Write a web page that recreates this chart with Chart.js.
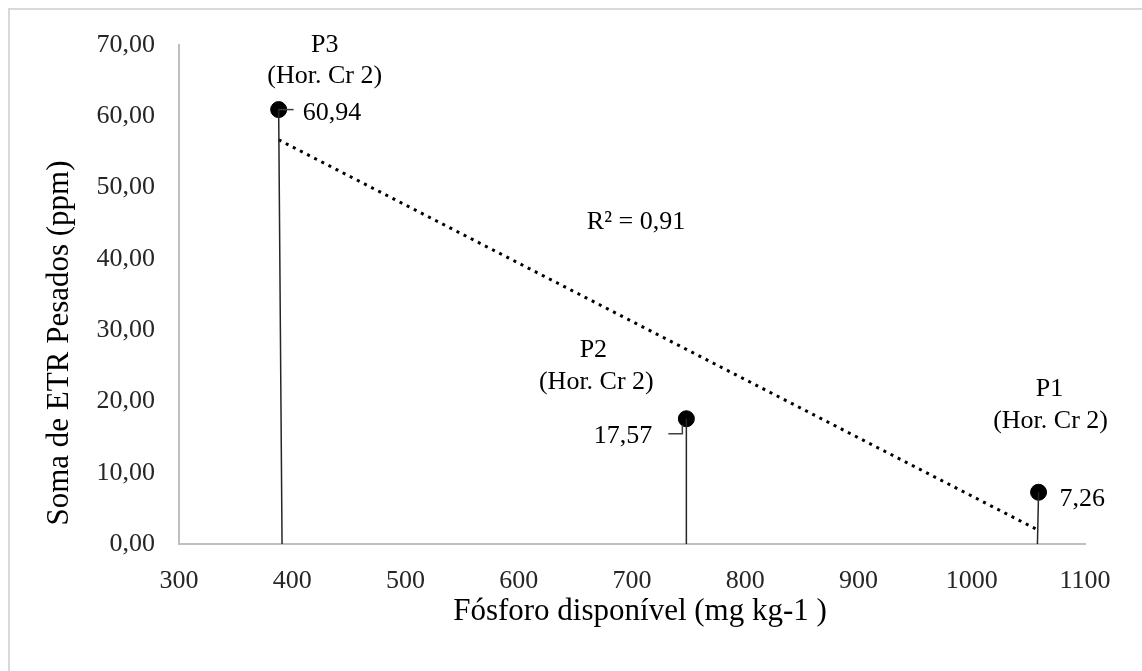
<!DOCTYPE html>
<html lang="pt">
<head>
    <meta charset="UTF-8">
    <title>Fósforo x ETR Pesados</title>
    <script src="https://cdn.jsdelivr.net/npm/chart.js"></script>
    <style>
        html, body { margin: 0; padding: 0; background: #fff; }
        #wrap { position: relative; width: 1142px; height: 671px; }
        #frame { position: absolute; left: 8px; top: 8px; width: 1200px; height: 700px;
                 border-left: 2px solid #d9d9d9; border-top: 2px solid #d9d9d9; }
    </style>
</head>
<body>
<div id="wrap">
    <div id="frame"></div>
    <canvas id="grafico" width="1142" height="671"></canvas>
</div>
<script>
// dados
const pontos = ['P3', 'P2', 'P1'];
const horizonte = ['(Hor. Cr 2)', '(Hor. Cr 2)', '(Hor. Cr 2)'];
const fosforo = [388, 748, 1059];          // mg kg-1
const somaETR = [60.94, 17.57, 7.26];      // ppm
const baseLinha = [391, 748, 1058];        // pé das linhas verticais
const tendX = [388, 1058];
const tendY = [56.7, 2.0];
const r2 = '0,91';
const xTicks = [300, 400, 500, 600, 700, 800, 900, 1000, 1100];
const yTicks = [0, 10, 20, 30, 40, 50, 60, 70];

const fonte = '"Liberation Serif", "Times New Roman", serif';
const virgula = v => v.toFixed(2).replace('.', ',');

// linhas verticais (separadas por null)
const linhas = [];
for (let i = 0; i < fosforo.length; i++) {
    linhas.push({ x: fosforo[i], y: somaETR[i] });
    linhas.push({ x: baseLinha[i], y: 0 });
    linhas.push({ x: baseLinha[i], y: null });
}

const textos = {
    id: 'textos',
    afterDatasetsDraw(chart) {
        const ctx = chart.ctx;
        const sx = chart.scales.x, sy = chart.scales.y;
        ctx.save();
        ctx.fillStyle = '#000';
        ctx.strokeStyle = '#404040';
        ctx.lineWidth = 1.5;
        ctx.font = '26px ' + fonte;
        ctx.textBaseline = 'middle';

        // rótulos dos pontos: nome, horizonte e valor
        const nomeOff = [[46, -64], [-93, -69], [11, -103]];
        const horOff = [[46, -33], [-90, -37], [12, -71]];
        const valOff = [[24, 4], [-34, 17], [21, 7]];
        for (let i = 0; i < pontos.length; i++) {
            const px = sx.getPixelForValue(fosforo[i]);
            const py = sy.getPixelForValue(somaETR[i]);
            ctx.textAlign = 'center';
            ctx.fillText(pontos[i], px + nomeOff[i][0], py + nomeOff[i][1]);
            ctx.fillText(horizonte[i], px + horOff[i][0], py + horOff[i][1]);
            ctx.textAlign = i === 1 ? 'right' : 'left';
            ctx.fillText(virgula(somaETR[i]), px + valOff[i][0], py + valOff[i][1]);
            // linhas de chamada
            ctx.beginPath();
            if (i === 0) {
                ctx.moveTo(px, py); ctx.lineTo(px + 15, py);
            } else if (i === 1) {
                ctx.moveTo(px - 18, py + 15); ctx.lineTo(px - 4, py + 15); ctx.lineTo(px - 4, py + 6);
            }
            ctx.stroke();
        }

        // R²
        ctx.textAlign = 'center';
        ctx.fillText('R² = ' + r2, 636, 222);

        // títulos dos eixos
        ctx.font = '31px ' + fonte;
        ctx.fillText('Fósforo disponível (mg kg-1 )', 640, 612);
        ctx.translate(60, 343);
        ctx.rotate(-Math.PI / 2);
        ctx.fillText('Soma de ETR Pesados (ppm)', 0, 0);
        ctx.restore();
    }
};

new Chart(document.getElementById('grafico'), {
    type: 'scatter',
    data: {
        datasets: [
            {
                label: 'linhas',
                data: linhas,
                showLine: true,
                spanGaps: false,
                borderColor: '#262626',
                borderWidth: 1.5,
                pointRadius: 0
            },
            {
                label: 'tendência',
                data: tendX.map((x, i) => ({ x: x, y: tendY[i] })),
                showLine: true,
                borderColor: '#000',
                borderWidth: 3,
                borderDash: [3, 5],
                pointRadius: 0
            },
            {
                label: 'Soma de ETR',
                data: fosforo.map((x, i) => ({ x: x, y: somaETR[i] })),
                backgroundColor: '#000',
                borderColor: '#000',
                pointRadius: 8,
                pointHoverRadius: 8
            }
        ]
    },
    options: {
        responsive: false,
        animation: false,
        layout: { padding: { left: 0, top: 45, right: 57, bottom: 0 } },
        plugins: { legend: { display: false }, tooltip: { enabled: false } },
        scales: {
            x: {
                type: 'linear',
                min: 300, max: 1100,
                afterBuildTicks: s => { s.ticks = xTicks.map(v => ({ value: v })); },
                afterFit: s => { s.height = 127; },
                grid: { display: false, drawTicks: false },
                border: { color: '#bfbfbf', width: 2 },
                ticks: { color: '#262626', padding: 22, font: { family: fonte, size: 26 },
                         callback: v => String(v) }
            },
            y: {
                type: 'linear',
                min: 0, max: 70,
                afterBuildTicks: s => { s.ticks = yTicks.map(v => ({ value: v })); },
                afterFit: s => { s.width = 179; },
                grid: { display: false, drawTicks: false },
                border: { color: '#bfbfbf', width: 2 },
                ticks: { color: '#262626', padding: 24, font: { family: fonte, size: 26 },
                         callback: v => virgula(v) }
            }
        }
    },
    plugins: [textos]
});
</script>
</body>
</html>
